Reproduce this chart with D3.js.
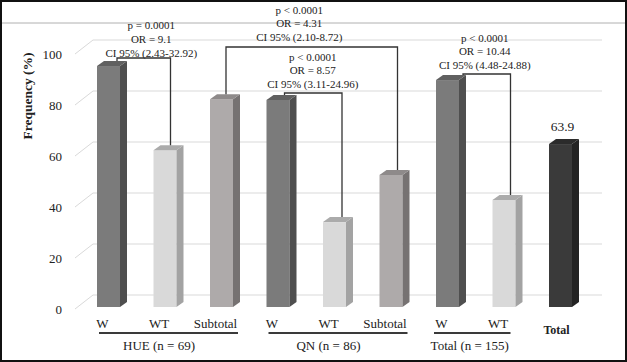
<!DOCTYPE html>
<html><head><meta charset="utf-8">
<script src="https://cdn.jsdelivr.net/npm/d3@7"></script>
<style>body{margin:0;background:#fff}svg{display:block}text{font-family:"Liberation Serif","Times New Roman",serif;fill:#222}</style>
</head><body>
<svg id="c" width="627" height="362"></svg>
<script>
// ---- data ----
const categories = ["W","WT","Subtotal","W","WT","Subtotal","W","WT","Total"];
const kinds = ["W","WT","Sub","W","WT","Sub","W","WT","Total"];
const values = [94.5, 61.5, 81.5, 81.2, 33.3, 51.8, 89.0, 42.0, 63.9];
const groupNames = ["HUE (n = 69)", "QN (n = 86)", "Total (n = 155)"];
const groupMembers = [[0,1,2],[3,4,5],[6,7]];
const yTicks = [0,20,40,60,80,100];
const annP = ["p = 0.0001","p < 0.0001","p < 0.0001","p < 0.0001"];
const annOR = ["OR = 9.1","OR = 4.31","OR = 8.57","OR = 10.44"];
const annCI = ["CI 95% (2.43-32.92)","CI 95% (2.10-8.72)","CI 95% (3.11-24.96)","CI 95% (4.48-24.88)"];
const annPairs = [[0,1],[2,5],[3,4],[6,7]];
const totalLabel = "63.9";

// ---- layout ----
const W = 627, H = 362;
const svg = d3.select("#c");
const ids = d3.range(categories.length);
const x = d3.scaleBand().domain(ids).range([80, 588.5]).padding(0);
const y = d3.scaleLinear().domain([0,100]).range([307, 52]);
const barW = 23, dx = 7, dy = 5;
const xf = i => x(i) + 17;           // front-face left
const labelX = i => xf(i) + barW/2 - 6;
const colors = {
  W:    {front:"#7b7b7b", side:"#4f4f4f", top:"#606060"},
  WT:   {front:"#d9d9d9", side:"#a3a3a3", top:"#ababab"},
  Sub:  {front:"#aeaaaa", side:"#767272", top:"#8e8a8a"},
  Total:{front:"#3a3a3a", side:"#232323", top:"#2b2b2b"}
};

// top rule line
svg.append("line").attr("x1",0).attr("x2",W).attr("y1",23).attr("y2",23)
  .attr("stroke","#b0b0b0").attr("stroke-width",1);

// gridlines (back wall + diagonal)
const grid = svg.append("g");
yTicks.forEach(t => {
  grid.append("path")
    .attr("d", `M75,${y(t)+2}L93,${y(t)-12}H602`)
    .attr("fill","none").attr("stroke","#d9d9d9").attr("stroke-width",1);
});

// y tick labels
svg.append("g").selectAll("text").data(yTicks).join("text")
  .attr("x",62).attr("y",t => y(t)+6.5).attr("text-anchor","end")
  .attr("font-size","13px").text(d => d);

// y axis title
svg.append("text").attr("transform","translate(32,96) rotate(-90)")
  .attr("text-anchor","middle").attr("font-size","13.5px").attr("font-weight","bold")
  .text("Frequency (%)");

// bars
const bars = svg.append("g").selectAll("g").data(ids).join("g");
bars.append("rect")
  .attr("x", i => xf(i)).attr("y", i => y(values[i]))
  .attr("width", barW).attr("height", i => y(0) - y(values[i]))
  .attr("fill", i => colors[kinds[i]].front);
bars.append("path")
  .attr("d", i => { const a = xf(i)+barW, t = y(values[i]), b = y(0);
    return `M${a},${t}L${a+dx},${t-dy}L${a+dx},${b-dy}L${a},${b}Z`; })
  .attr("fill", i => colors[kinds[i]].side);
bars.append("path")
  .attr("d", i => { const a = xf(i), t = y(values[i]);
    return `M${a},${t}L${a+dx},${t-dy}L${a+barW+dx},${t-dy}L${a+barW},${t}Z`; })
  .attr("fill", i => colors[kinds[i]].top);

// total value label
svg.append("text").attr("x", xf(8)+barW/2+2).attr("y", y(values[8]) - 13)
  .attr("text-anchor","middle").attr("font-size","13.5px").text(totalLabel);

// x category labels
svg.append("g").selectAll("text").data(ids).join("text")
  .attr("x", i => labelX(i) + (kinds[i]==="Total" ? 2 : 0))
  .attr("y", i => kinds[i]==="Total" ? 334 : 328)
  .attr("text-anchor","middle")
  .attr("font-size", i => kinds[i]==="Total" ? "12px" : "13px")
  .attr("font-weight", i => kinds[i]==="Total" ? "bold" : "normal")
  .text(i => categories[i]);

// group underlines and names
groupMembers.forEach((m, g) => {
  const x1 = xf(m[0]) + (g===2 ? -2 : 2);
  const x2 = g===2 ? xf(m[m.length-1]) + 18 : xf(m[m.length-1]) + barW + dx - 2;
  svg.append("line").attr("x1",x1).attr("x2",x2).attr("y1",333).attr("y2",333)
    .attr("stroke","#3a3a3a").attr("stroke-width",2);
  svg.append("text").attr("x", d3.mean(m, labelX)).attr("y",350)
    .attr("text-anchor","middle").attr("font-size","13px").text(groupNames[g]);
});

// annotations
const annLayout = [
  {tx:14.5, lineY:58, l:20, r:17, gap:1.5},
  {tx:-7,   lineY:47, l:16, r:18, gap:6},
  {tx:6.5,  lineY:93, l:18, r:19, gap:5},
  {tx:9,    lineY:74, l:27, r:18, gap:5}
];
annPairs.forEach(([a,b], k) => {
  const L = annLayout[k];
  const cx = (xf(a)+xf(b))/2 + barW/2 + L.tx;
  const xl = xf(a) + L.l, xr = xf(b) + L.r;
  const ta = y(values[a]) - dy, tb = y(values[b]) - dy;
  svg.append("path")
    .attr("d", `M${xl},${ta}V${L.lineY}H${xr}V${tb}`)
    .attr("fill","none").attr("stroke","#333").attr("stroke-width",1.3);
  [annP[k], annOR[k], annCI[k]].forEach((s, j) => {
    svg.append("text").attr("x", cx).attr("y", L.lineY - L.gap - (2-j)*13.7)
      .attr("text-anchor","middle").attr("font-size","11px").text(s);
  });
});

// outer frame
svg.append("rect").attr("x",1).attr("y",1).attr("width",W-2).attr("height",H-2)
  .attr("fill","none").attr("stroke","#111").attr("stroke-width",2);
</script>
</body></html>
